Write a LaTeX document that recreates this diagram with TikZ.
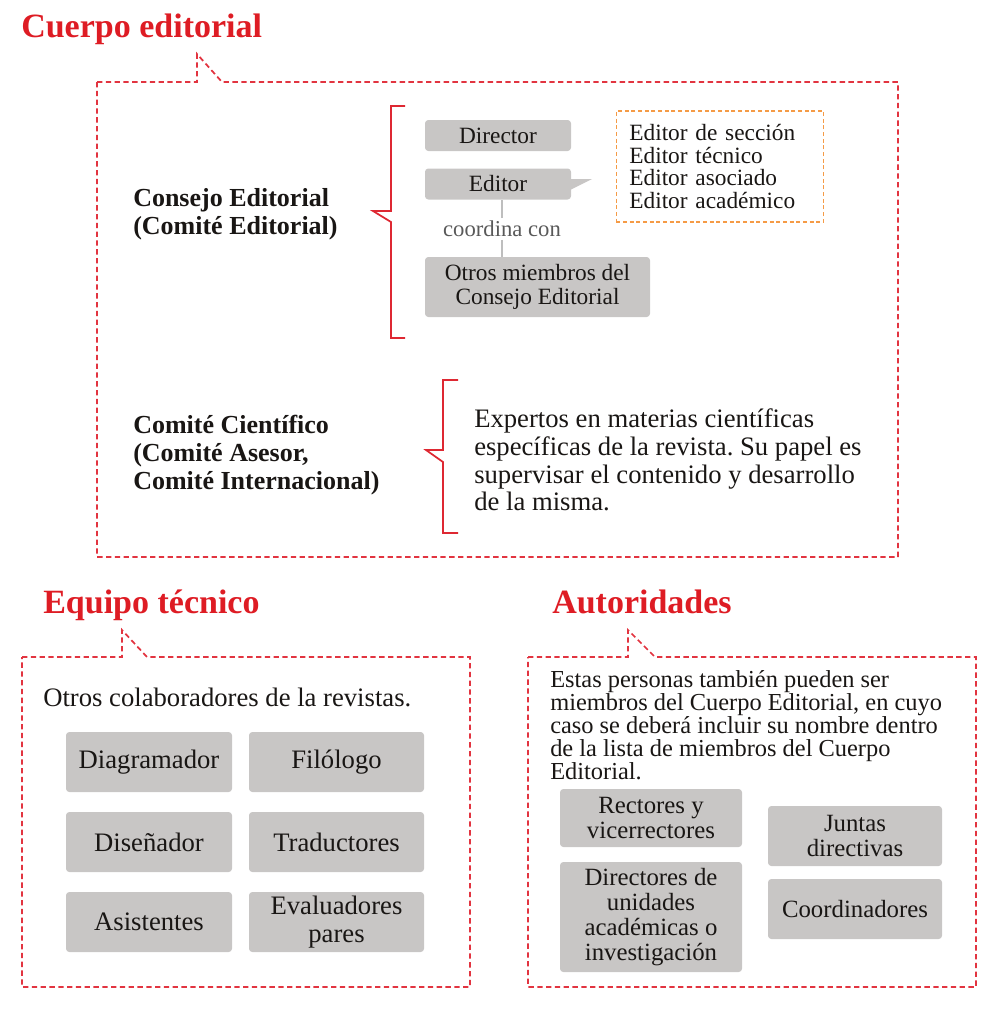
\documentclass[tikz,border=0pt]{standalone}
\usepackage{fontspec}
\setmainfont{Liberation Serif}
\frenchspacing
\usetikzlibrary{positioning,calc}
\definecolor{titlered}{RGB}{222,28,36}
\definecolor{framered}{RGB}{226,52,64}
\definecolor{bracered}{RGB}{222,40,50}
\definecolor{listorange}{RGB}{245,155,70}
\definecolor{boxgray}{RGB}{200,198,197}
\definecolor{linkgray}{RGB}{190,190,190}
\definecolor{ink}{RGB}{25,22,20}
\tikzstyle{title}=[font=\bfseries\fontsize{25.5}{27}\selectfont, text=titlered, anchor=base west, inner sep=0pt]
\tikzstyle{frame}=[draw=framered, line width=1.3pt, dash pattern=on 4pt off 2.6pt]
\tikzstyle{brace}=[draw=bracered, line width=1.3pt]
\tikzstyle{head}=[font=\bfseries\fontsize{19.5}{21}\selectfont, text=ink, anchor=west, align=left, inner sep=0pt]
\tikzstyle{body}=[font=\fontsize{20}{20.7}\selectfont, text=ink, anchor=west, align=left, inner sep=0pt]
\tikzstyle{smallbox}=[fill=boxgray, rounded corners=2.5pt, align=center, text=ink, inner sep=0pt, font=\fontsize{17.5}{17.5}\selectfont]
\tikzstyle{tbox}=[fill=boxgray, rounded corners=2.5pt, align=center, text=ink, inner sep=0pt, minimum height=45pt, font=\fontsize{20}{20.5}\selectfont]
\tikzstyle{abox}=[fill=boxgray, rounded corners=2.5pt, align=center, text=ink, inner sep=0pt, minimum width=136.5pt, font=\fontsize{18.6}{18.6}\selectfont]
\tikzstyle{link}=[draw=linkgray, line width=1pt]
\tikzstyle{rolelist}=[draw=listorange, line width=1.2pt, dash pattern=on 3pt off 2pt, text=ink, align=left, text width=136pt, inner xsep=9.75pt, minimum height=83.25pt, font=\fontsize{17.5}{17}\selectfont]

\begin{document}
\begin{tikzpicture}[x=0.75pt, y=-0.75pt]
\useasboundingbox (0,0) rectangle (1000,1014);

% Section titles
\node[title] (tcuerpo) at (21,37) {Cuerpo editorial};
\node[title] (tequipo) at (43,613) {Equipo técnico};
\node[title] (tautor) at (552,613) {Autoridades};

% Dashed frames with their tabs
\draw[frame] (97,82) -- (197,82) -- (197,54) -- (222,82) -- (898,82) -- (898,557) -- (97,557) -- cycle;
\draw[frame] (22,657) -- (122,657) -- (122,630) -- (147,657) -- (470,657) -- (470,987) -- (22,987) -- cycle;
\draw[frame] (528,657) -- (628,657) -- (628,630) -- (655,657) -- (976,657) -- (976,987) -- (528,987) -- cycle;

% Consejo Editorial
\node[head] (consejo) at (133,214) {Consejo Editorial\\(Comité Editorial)};
\draw[brace] (405,106) -- (391,106) -- (391,211) -- (373,211) -- (391,222) -- (391,338) -- (405,338);

\node[smallbox, minimum width=109.5pt, minimum height=23.25pt] (director) at (498,135.5) {Director};
\node[smallbox, minimum width=109.5pt, minimum height=23.25pt] (editor) at (498,184) {Editor};
\node[smallbox, minimum width=168.75pt, minimum height=45pt] (otros) at (537.5,287) {Otros miembros del\\Consejo Editorial};
\node[font=\fontsize{17}{17}\selectfont, text=black!65, inner sep=2pt] (coord) at (502,229) {coordina con};
\draw[link] (coord.north) -- (coord.north |- editor.south);
\draw[link] (coord.south) -- (coord.south |- otros.north);

\coordinate (tip) at (592,179);
\fill[boxgray] ($(editor.east)+(-3,-5)$) -- (tip) -- ($(editor.east)+(-3,7)$) -- cycle;
\node[rolelist] (roles) at (720,166.5) {Editor de sección\\Editor técnico\\Editor asociado\\Editor académico};

% Comite Cientifico
\node[head] (comite) at (133,455) {Comité Científico\\(Comité Asesor,\\Comité Internacional)};
\draw[brace] (458,380) -- (443,380) -- (443,450) -- (426,450) -- (443,462) -- (443,533) -- (458,533);
\node[body] (expertos) at (474,460) {Expertos en materias científicas\\específicas de la revista. Su papel es\\supervisar el contenido y desarrollo\\de la misma.};

% Equipo tecnico
\node[body] (colab) at (43,697) {Otros colaboradores de la revistas.};
\foreach \pos/\name/\txt in {{(149,762)/diag/Diagramador}, {(149,842)/dise/Diseñador}, {(149,922)/asis/Asistentes}}
  \node[tbox, minimum width=124.5pt] (\name) at \pos {\txt};
\foreach \pos/\name/\txt in {{(336.5,762)/filo/Filólogo}, {(336.5,842)/trad/Traductores}, {(336.5,922)/eval/Evaluadores\\pares}}
  \node[tbox, minimum width=131.25pt] (\name) at \pos {\txt};

% Autoridades
\node[body, font=\fontsize{18.3}{17.3}\selectfont] (estas) at (550,725) {Estas personas también pueden ser\\miembros del Cuerpo Editorial, en cuyo\\caso se deberá incluir su nombre dentro\\de la lista de miembros del Cuerpo\\Editorial.};
\node[abox, minimum height=43.5pt] (rect) at (651,818) {Rectores y\\vicerrectores};
\node[abox, minimum height=82.5pt] (dirs) at (651,917) {Directores de\\unidades\\académicas o\\investigación};
\node[abox, minimum width=130.5pt, minimum height=45pt] (juntas) at (855,836) {Juntas\\directivas};
\node[abox, minimum width=130.5pt, minimum height=45pt] (coords) at (855,909) {Coordinadores};
\end{tikzpicture}
\end{document}
